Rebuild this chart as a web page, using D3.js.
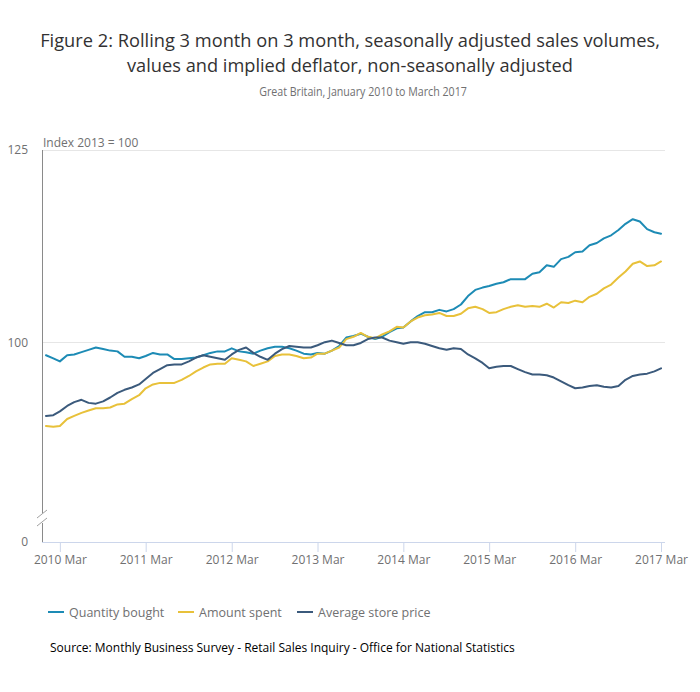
<!DOCTYPE html>
<html>
<head>
<meta charset="utf-8">
<script src="https://cdn.jsdelivr.net/npm/d3@7"></script>
<style>
  html, body { margin: 0; padding: 0; background: #fff; }
  svg { display: block; font-family: "Open Sans", sans-serif; }
</style>
</head>
<body>
<svg id="chart" width="700" height="692"></svg>
<script>
// ---- Data (Jan 2010 .. Mar 2017, monthly) ----
const startMonth = [2010, 0];
const quantityBought = [
  98.3, 97.9, 97.5, 98.3, 98.4, 98.7, 99.0, 99.3, 99.1, 98.9, 98.8, 98.1,
  98.1, 97.9, 98.2, 98.6, 98.4, 98.4, 97.8, 97.8, 97.9, 98.0, 98.3, 98.6,
  98.8, 98.8, 99.2, 98.8, 98.7, 98.5, 98.9, 99.2, 99.4, 99.4, 99.2, 98.9,
  98.5, 98.4, 98.6, 98.5, 98.9, 99.5, 100.6, 100.8, 101.1, 100.7, 100.4, 100.7,
  101.3, 101.8, 101.9, 102.7, 103.4, 103.9, 103.9, 104.2, 104.0, 104.3, 104.9, 106.0,
  106.8, 107.1, 107.3, 107.6, 107.8, 108.2, 108.2, 108.2, 108.9, 109.1, 110.0, 109.8,
  110.8, 111.1, 111.7, 111.8, 112.6, 112.9, 113.5, 113.9, 114.6, 115.4, 116.0, 115.7,
  114.7, 114.3, 114.1
];
const amountSpent = [
  89.1, 89.0, 89.1, 90.0, 90.4, 90.8, 91.1, 91.4, 91.4, 91.5, 91.9, 92.0,
  92.6, 93.1, 94.0, 94.5, 94.7, 94.7, 94.7, 95.1, 95.6, 96.2, 96.7, 97.1,
  97.2, 97.2, 97.9, 97.7, 97.5, 96.9, 97.2, 97.5, 98.2, 98.4, 98.4, 98.2,
  97.9, 98.0, 98.5, 98.5, 98.9, 99.3, 100.4, 100.7, 101.2, 100.7, 100.5, 101.0,
  101.4, 102.0, 101.9, 102.7, 103.2, 103.5, 103.6, 103.8, 103.4, 103.4, 103.7, 104.4,
  104.6, 104.3, 103.8, 103.9, 104.3, 104.6, 104.8, 104.6, 104.7, 104.6, 105.0, 104.5,
  105.2, 105.1, 105.4, 105.2, 105.9, 106.3, 107.0, 107.5, 108.4, 109.2, 110.2, 110.5,
  109.9, 110.0, 110.5
];
const averageStorePrice = [
  90.4, 90.5, 91.0, 91.7, 92.2, 92.5, 92.1, 92.0, 92.3, 92.8, 93.4, 93.8,
  94.1, 94.5, 95.2, 96.0, 96.5, 97.0, 97.1, 97.1, 97.5, 98.0, 98.3, 98.1,
  97.9, 97.7, 98.4, 99.0, 99.3, 98.6, 98.1, 97.7, 98.5, 99.1, 99.5, 99.4,
  99.3, 99.3, 99.6, 100.0, 100.2, 99.9, 99.6, 99.6, 99.9, 100.4, 100.6, 100.6,
  100.2, 100.0, 99.8, 100.0, 100.0, 99.8, 99.5, 99.2, 99.0, 99.2, 99.1, 98.4,
  97.9, 97.3, 96.6, 96.8, 96.9, 96.9, 96.5, 96.1, 95.8, 95.8, 95.7, 95.4,
  94.9, 94.4, 94.0, 94.1, 94.3, 94.4, 94.2, 94.1, 94.3, 95.1, 95.6, 95.8,
  95.9, 96.2, 96.6
];
const seriesNames = ["Quantity bought", "Amount spent", "Average store price"];
const seriesColors = ["#1d8bb5", "#e8c13a", "#3b5a7c"];
const yTickValues = [0, 100, 125];
const xTickYears = [2010, 2011, 2012, 2013, 2014, 2015, 2016, 2017];
const xTickMonth = 2; // March

const titleLines = [
  "Figure 2: Rolling 3 month on 3 month, seasonally adjusted sales volumes,",
  "values and implied deflator, non-seasonally adjusted"
];
const subtitle = "Great Britain, January 2010 to March 2017";
const yAxisTitle = "Index 2013 = 100";
const sourceText = "Source: Monthly Business Survey - Retail Sales Inquiry - Office for National Statistics";

// ---- Build ----
const svg = d3.select("#chart");
const dates = quantityBought.map((_, i) => new Date(startMonth[0], startMonth[1] + i, 1));
const allSeries = [quantityBought, amountSpent, averageStorePrice].map((vals, k) => ({
  name: seriesNames[k], color: seriesColors[k],
  values: vals.map((v, i) => ({ date: dates[i], value: v }))
}));

const plot = { left: 42, right: 665, top: 150, bottom: 542 };
const x = d3.scaleTime()
  .domain([dates[0], dates[dates.length - 1]])
  .range([46, 661]);
// broken axis: 0 shown at bottom, 74..125 continuous
const y = d3.scaleLinear().domain([0, 74, 125]).range([542, 542, 150]);

// Titles (horizontally condensed to match the narrow title face)
const tfill = "#323132";
function condensedText(cx, cy, size, fill, str, targetW) {
  const g = svg.append("g");
  const t = g.append("text").attr("x", 0).attr("y", 0).attr("text-anchor", "middle")
    .attr("font-size", size).attr("fill", fill).text(str);
  const n = t.node().getComputedTextLength();
  const sx = n > targetW ? targetW / n : 1;
  g.attr("transform", `translate(${cx},${cy}) scale(${sx},1)`);
  return g;
}
condensedText(350, 46.5, 19, tfill, titleLines[0], 620);
condensedText(350, 71.5, 19, tfill, titleLines[1], 446);
condensedText(363, 96, 12, "#707071", subtitle, 208);

// Gridlines
svg.append("g").selectAll("line").data(yTickValues.filter(d => d !== 0)).join("line")
  .attr("x1", plot.left).attr("x2", plot.right)
  .attr("y1", d => y(d)).attr("y2", d => y(d))
  .attr("stroke", "#e6e6e6").attr("stroke-width", 1).attr("shape-rendering", "crispEdges");

// Y axis
const yAxis = d3.axisLeft(y).tickValues(yTickValues).tickSize(0).tickPadding(14)
  .tickFormat(d3.format("d"));
const gy = svg.append("g").attr("transform", `translate(${plot.left},0)`).call(yAxis);
gy.select(".domain").remove();
gy.selectAll("text").attr("font-size", 12).attr("fill", "#707071")
  .attr("font-family", "Open Sans, sans-serif");
svg.append("line").attr("x1", plot.left).attr("x2", plot.left)
  .attr("y1", plot.top).attr("y2", plot.bottom)
  .attr("stroke", "#8a8a8a").attr("stroke-width", 1).attr("shape-rendering", "crispEdges");
// axis break
svg.append("rect").attr("x", plot.left - 2).attr("y", 513).attr("width", 4).attr("height", 10).attr("fill", "#fff");
svg.append("line").attr("x1", 37).attr("y1", 518).attr("x2", 47).attr("y2", 510)
  .attr("stroke", "#a0a0a0").attr("stroke-width", 1);
svg.append("line").attr("x1", 37).attr("y1", 526).attr("x2", 47).attr("y2", 518)
  .attr("stroke", "#a0a0a0").attr("stroke-width", 1);

svg.append("text").attr("x", 43).attr("y", 147).attr("font-size", 12)
  .attr("fill", "#707071").text(yAxisTitle);

// X axis
const xTicks = xTickYears.map(yr => new Date(yr, xTickMonth, 1));
const xAxis = d3.axisBottom(x).tickValues(xTicks).tickSize(10).tickPadding(3)
  .tickFormat(d3.timeFormat("%Y %b"));
const gx = svg.append("g").attr("transform", `translate(0,${plot.bottom})`).call(xAxis);
gx.select(".domain").attr("d", `M${plot.left},0.5H${plot.right}`).attr("stroke", "#ccd6eb");
gx.selectAll(".tick line").attr("stroke", "#ccd6eb");
gx.selectAll("text").attr("font-size", 12).attr("fill", "#707071")
  .attr("font-family", "Open Sans, sans-serif");

// Lines
const line = d3.line().x(d => x(d.date)).y(d => y(d.value));
svg.append("g").selectAll("path").data(allSeries).join("path")
  .attr("d", d => line(d.values))
  .attr("fill", "none").attr("stroke", d => d.color).attr("stroke-width", 2)
  .attr("stroke-linejoin", "round").attr("stroke-linecap", "round");

// Legend
const legendX = [48, 178, 297];
const lg = svg.append("g").selectAll("g").data(allSeries).join("g")
  .attr("transform", (d, i) => `translate(${legendX[i]},612)`);
lg.append("line").attr("x1", 0).attr("x2", 16).attr("y1", 0).attr("y2", 0)
  .attr("stroke", d => d.color).attr("stroke-width", 2);
lg.append("text").attr("x", 21).attr("y", 4.5).attr("font-size", 12.5)
  .attr("fill", "#707071").text(d => d.name);

// Source
svg.append("text").attr("x", 50).attr("y", 652).attr("font-size", 12)
  .attr("fill", "#000").text(sourceText);
</script>
</body>
</html>
